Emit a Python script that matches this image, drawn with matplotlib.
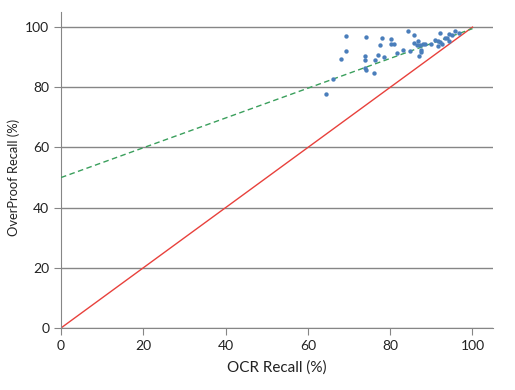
#! /usr/bin/env python3

import numpy as np
import matplotlib
matplotlib.use('Agg')
import matplotlib.pyplot as plt

ocr_recall = [69.2, 74.2, 78.0, 80.2, 84.4, 85.8, 92.1, 94.2, 95.1, 95.8,
              96.7, 77.6, 80.2, 81.0, 85.7, 86.7, 86.5, 87.2, 87.9, 88.4,
              90.0, 91.0, 91.6, 92.1, 92.6, 91.6, 93.3, 93.7, 94.3, 69.2,
              68.1, 73.9, 73.9, 77.1, 78.5, 76.3, 81.7, 83.1, 84.8, 87.4,
              87.4, 87.0, 73.9, 74.2, 76.0, 66.1, 64.4]
overproof_recall = [97.1, 96.8, 96.3, 96.0, 98.6, 97.4, 98.1, 97.6, 97.3, 98.6,
                    98.1, 94.1, 94.4, 94.4, 94.8, 95.4, 94.1, 94.1, 94.4, 94.4,
                    94.4, 95.8, 95.4, 95.1, 94.4, 93.8, 96.3, 96.3, 95.4, 92.1,
                    89.5, 90.5, 89.1, 90.8, 90.1, 89.1, 91.4, 92.4, 92.1, 92.4,
                    91.8, 90.5, 86.4, 85.8, 84.9, 82.8, 77.8]

# trendline as drawn in the chart, and the y = x reference
trend_x = [0, 100]
trend_y = [50, 99.5]
diag = [0, 100]

plt.rcParams['font.family'] = ['Lato', 'DejaVu Sans']

fig = plt.figure(figsize=(5.15, 3.9), dpi=100)
ax = fig.add_axes([0.1184, 0.159, 0.839, 0.81])

ax.plot(diag, diag, color='#e8413c', linewidth=1.0, zorder=2)
ax.plot(trend_x, trend_y, color='#3a9f5c', linewidth=1.0,
        linestyle=(0, (4, 2.5)), zorder=3)
ax.scatter(ocr_recall, overproof_recall, s=10, color='#4a7ebb', zorder=4,
           linewidths=0)

ax.set_xlim(0, 105)
ax.set_ylim(0, 105)
ax.set_xticks(np.arange(0, 101, 20))
ax.set_yticks(np.arange(0, 101, 20))
ax.yaxis.grid(True, color='#868686', linewidth=1.0)
ax.set_axisbelow(True)

for k, v in ax.spines.items():
    if k in ('top', 'right'):
        v.set_visible(False)
    else:
        v.set_color('#868686')
ax.tick_params(direction='out', length=5, color='#868686',
               labelsize=10, labelcolor='#222222')

ax.set_xlabel('OCR Recall (%)', fontsize=11, color='#222222', labelpad=6)
ax.set_ylabel('OverProof Recall (%)', fontsize=9.3, color='#222222')
ax.yaxis.set_label_coords(-0.095, 0.476)

fig.savefig('out.png', dpi=100)
